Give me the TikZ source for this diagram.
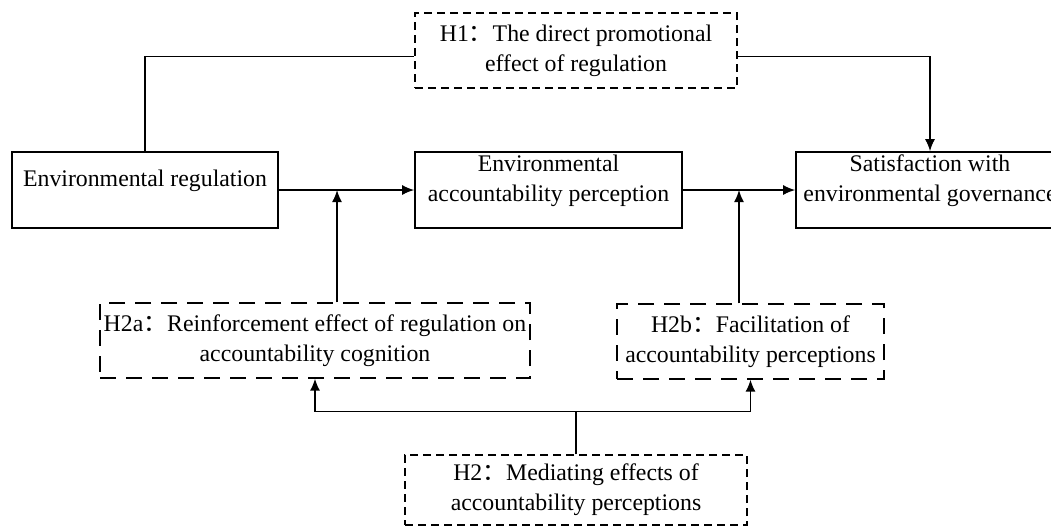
\documentclass[tikz,border=0pt]{standalone}
\usepackage{fontspec}
\setmainfont{Liberation Serif}
\newfontfamily\cjk{Noto Sans CJK SC}
\usetikzlibrary{arrows.meta,calc}
\newcommand{\hcolon}{{\cjk ：}}

\begin{document}
\begin{tikzpicture}[x=0.5pt,y=-0.5pt,
    font=\fontsize{11.9}{15}\selectfont,
    var/.style={draw,line width=0.8pt,inner sep=0pt,align=center,minimum height=38pt},
    hyp/.style={draw,line width=0.6pt,inner sep=0pt,align=center,minimum height=37.5pt},
    shortdash/.style={dash pattern=on 4pt off 2.5pt},
    longdash/.style={dash pattern=on 8pt off 5pt},
    arr/.style={line width=0.8pt,-{Latex[length=6pt,width=5pt]}},
    link/.style={line width=0.8pt}]
    % frame
    \useasboundingbox (0,0) rectangle (1051,526);
    % variables
    \node[var,minimum width=133pt,label={[yshift=4.5pt]center:Environmental regulation}] (reg) at (145,190) {};
    \node[var,minimum width=133.5pt,label={[yshift=4.5pt,align=center]center:{Environmental\\accountability perception}}] (acc) at (548.5,190) {};
    \node[var,minimum width=134pt,label={[yshift=4.5pt,align=center]center:{Satisfaction with\\environmental governance}}] (sat) at (930,190) {};
    % hypotheses
    \node[hyp,shortdash,minimum width=161pt] (h1) at (576,50.5) {H1\hcolon The direct promotional\\effect of regulation};
    \node[hyp,longdash,minimum width=215pt] (h2a) at (315,340.5) {H2a\hcolon Reinforcement effect of regulation on\\accountability cognition};
    \node[hyp,longdash,minimum width=133.5pt] (h2b) at (750.5,341.5) {H2b\hcolon Facilitation of\\accountability perceptions};
    \node[hyp,shortdash,minimum width=171pt,minimum height=35pt] (h2) at (576,490) {H2\hcolon Mediating effects of\\accountability perceptions};

    % direct path
    \draw[link] (reg.north) |- ([yshift=-3pt]h1.west);
    \draw[arr] ([yshift=-3pt]h1.east) -| (sat.north);
    \draw[arr] (reg.east) -- (acc.west);
    \draw[arr] (acc.east) -- (sat.west);
    % moderating arrows
    \coordinate (m1) at ($(reg.east)!0.43!(acc.west)$);
    \coordinate (m2) at ($(acc.east)!0.5!(sat.west)$);
    \draw[arr] (m1 |- h2a.north) -- (m1);
    \draw[arr] (m2 |- h2b.north) -- (m2);
    % mediation
    \coordinate (j) at ($(h2.north)+(0,-43)$);
    \draw[link] (h2.north) -- (j);
    \draw[arr] (j) -| (h2a.south);
    \draw[arr] (j) -| (h2b.south);
\end{tikzpicture}
\end{document}
